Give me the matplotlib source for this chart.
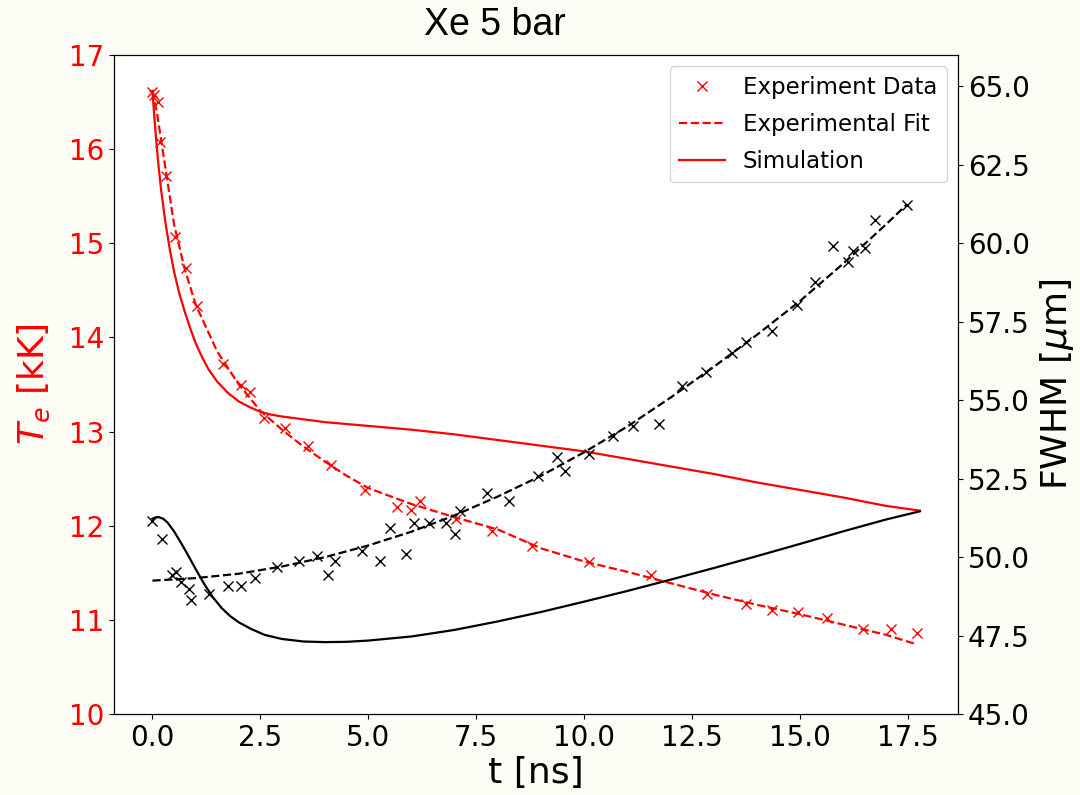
"""
Xe 5 bar: electron temperature and FWHM vs. time, experiment, fit and simulation.
"""
import numpy as np
import matplotlib
matplotlib.use('Agg')
import matplotlib.pyplot as plt


# Electron temperature [kK], experiment
TE_EXP_T = [0.0, 0.04, 0.12, 0.18, 0.31, 0.52, 0.77, 1.03, 1.64, 2.04, 2.26, 2.58, 3.07, 3.60,
            4.13, 4.93, 5.66, 5.98, 6.19, 7.04, 7.87, 8.79, 10.12, 11.55, 12.85, 13.76, 14.35,
            14.96, 15.63, 16.45, 17.12, 17.70]
TE_EXP = [16.61, 16.57, 16.50, 16.08, 15.71, 15.07, 14.74, 14.33, 13.72, 13.49, 13.42, 13.14, 13.04, 12.85,
          12.64, 12.38, 12.20, 12.17, 12.26, 12.07, 11.94, 11.78, 11.61, 11.48, 11.27, 11.17, 11.10,
          11.08, 11.02, 10.90, 10.90, 10.86]

# Electron temperature, experimental fit
TE_FIT_T = [0.0, 0.1, 0.25, 0.5, 0.75, 1.0, 1.5, 2.0, 2.5, 3.0, 3.5, 4.0, 4.5, 5.0, 6.0, 7.0, 8.0,
            9.0, 10.0, 11.0, 12.0, 13.0, 14.0, 15.0, 16.0, 17.0, 17.70]
TE_FIT = [16.62, 16.40, 15.95, 15.20, 14.72, 14.35, 13.85, 13.50, 13.22, 13.02, 12.84, 12.68, 12.53, 12.40,
          12.23, 12.09, 11.96, 11.76, 11.62, 11.51, 11.39, 11.27, 11.16, 11.06, 10.95, 10.84, 10.74]

# Electron temperature, simulation
TE_SIM_T = [0.0, 0.05, 0.1, 0.15, 0.2, 0.3, 0.4, 0.5, 0.62, 0.75, 0.88, 1.0, 1.15, 1.3, 1.5, 1.75,
            2.0, 2.25, 2.5, 2.75, 3.0, 3.5, 4.0, 5.0, 6.0, 7.0, 8.0, 9.0, 10.0, 11.0, 12.0, 13.0,
            14.0, 15.0, 16.0, 17.0, 17.78]
TE_SIM = [16.62, 16.30, 16.02, 15.78, 15.57, 15.22, 14.94, 14.70, 14.47, 14.27, 14.09, 13.94, 13.79, 13.66,
          13.53, 13.41, 13.32, 13.26, 13.21, 13.18, 13.16, 13.13, 13.10, 13.06, 13.02, 12.97, 12.91,
          12.85, 12.79, 12.71, 12.63, 12.55, 12.46, 12.38, 12.30, 12.21, 12.16]

# FWHM [um], experiment
FW_EXP_T = [0.0, 0.21, 0.45, 0.54, 0.67, 0.85, 0.90, 1.31, 1.74, 2.06, 2.37, 2.88, 3.40, 3.80, 4.06,
            4.24, 4.86, 5.27, 5.50, 5.88, 6.05, 6.40, 6.79, 7.02, 7.13, 7.76, 8.27, 8.92, 9.37, 9.56,
            10.12, 10.66, 11.13, 11.74, 12.26, 12.83, 13.42, 13.75, 14.36, 14.92, 15.35, 15.77, 16.12,
            16.24, 16.51, 16.74, 17.47]
FW_EXP = [51.16, 50.58, 49.44, 49.52, 49.20, 48.99, 48.64, 48.81, 49.09, 49.09, 49.34, 49.68, 49.86, 50.05, 49.43,
          49.89, 50.21, 49.86, 50.92, 50.10, 51.08, 51.08, 51.08, 50.74, 51.48, 52.03, 51.80, 52.57, 53.18, 52.75,
          53.29, 53.87, 54.17, 54.24, 55.44, 55.89, 56.51, 56.87, 57.19, 58.02, 58.78, 59.90, 59.39,
          59.76, 59.85, 60.74, 61.23]

# FWHM, experimental fit
FW_FIT_T = [0.0, 1.0, 2.0, 3.0, 4.0, 5.0, 6.0, 7.0, 8.0, 9.0, 10.0, 11.0, 12.0, 13.0, 14.0, 15.0, 16.0,
            17.0, 17.47]
FW_FIT = [49.25, 49.33, 49.47, 49.70, 50.00, 50.37, 50.81, 51.33, 51.93, 52.59, 53.34, 54.16, 55.08, 56.06,
          57.08, 58.16, 59.35, 60.61, 61.23]

# FWHM, simulation
FW_SIM_T = [0.0, 0.08, 0.15, 0.25, 0.35, 0.5, 0.65, 0.8, 1.0, 1.2, 1.4, 1.6, 1.8, 2.0, 2.3, 2.6, 3.0,
            3.5, 4.0, 4.5, 5.0, 6.0, 7.0, 8.0, 9.0, 10.0, 11.0, 12.0, 13.0, 14.0, 15.0, 16.0, 17.0,
            17.78]
FW_SIM = [51.22, 51.27, 51.27, 51.22, 51.10, 50.82, 50.48, 50.12, 49.62, 49.14, 48.72, 48.38, 48.12, 47.92,
          47.70, 47.52, 47.39, 47.31, 47.29, 47.30, 47.34, 47.47, 47.68, 47.95, 48.25, 48.58, 48.92, 49.28,
          49.65, 50.03, 50.42, 50.82, 51.20, 51.46]

TICK_FS = 20
LABEL_FS = 26


def main():
    fig = plt.figure(figsize=(10.8, 7.95), dpi=100, facecolor='#fdfdf6')
    ax1 = fig.add_axes([0.1056, 0.1019, 0.7814, 0.8289])
    ax1.set_facecolor('white')

    ax1.plot(TE_EXP_T, TE_EXP, 'x', color='red', markersize=7.5, label='Experiment Data')
    ax1.plot(TE_FIT_T, TE_FIT, '--', color='red', linewidth=1.6, label='Experimental Fit')
    ax1.plot(TE_SIM_T, TE_SIM, '-', color='red', linewidth=1.6, label='Simulation')
    ax1.set_ylim(10, 17)
    ax1.set_yticks(np.arange(10, 18, 1))
    ax1.set_ylabel('$T_e$ [kK]', color='red', fontsize=LABEL_FS, labelpad=12)
    ax1.set_xlabel('t [ns]', fontsize=LABEL_FS, labelpad=3)
    ax1.tick_params(axis='y', labelcolor='red', labelsize=TICK_FS)
    ax1.tick_params(axis='x', labelsize=TICK_FS)

    ax2 = ax1.twinx()
    ax2.plot(FW_EXP_T, FW_EXP, 'x', color='black', markersize=7.5)
    ax2.plot(FW_FIT_T, FW_FIT, '--', color='black', linewidth=1.6)
    ax2.plot(FW_SIM_T, FW_SIM, '-', color='black', linewidth=1.6)
    ax2.set_ylim(45, 66)
    ax2.set_yticks(np.arange(45, 65.1, 2.5))
    ax2.set_ylabel('FWHM [$\\mu$m]', fontsize=LABEL_FS, labelpad=6)
    ax2.tick_params(axis='y', labelsize=TICK_FS)

    ax1.set_xticks(np.arange(0, 17.6, 2.5))
    ax1.set_xlim(-0.89, 18.66)

    ax1.legend(loc='upper right', fontsize=16.5, labelspacing=0.62)

    fig.text(495 / 1080, 1 - 25 / 795, 'Xe 5 bar', ha='center', va='center',
             fontsize=27, family='Liberation Sans')

    fig.savefig('out.png', dpi=100, facecolor=fig.get_facecolor())


if __name__ == "__main__":
    main()
